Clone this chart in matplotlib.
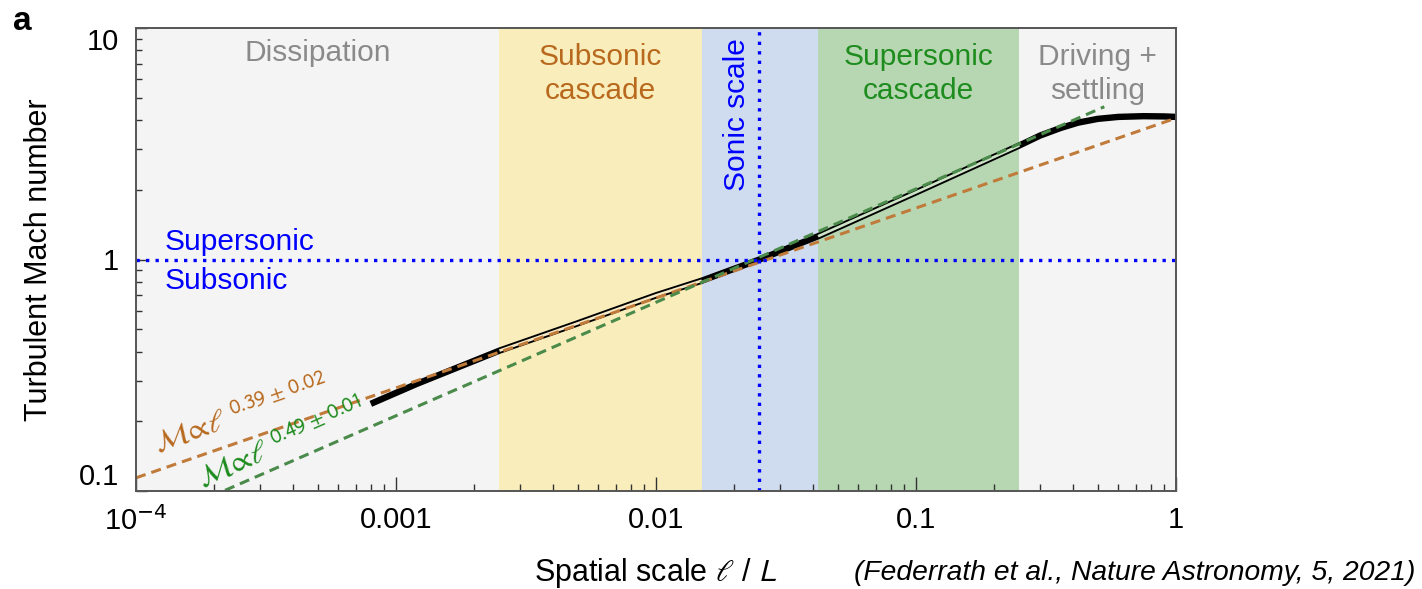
import matplotlib
matplotlib.use('Agg')
import matplotlib.pyplot as plt
import numpy as np
from matplotlib.ticker import FixedLocator, NullFormatter

plt.rcParams['font.family'] = ['Liberation Sans', 'DejaVu Sans']

# ---- data ----
scale = [0.0008, 0.0012, 0.0025, 0.005, 0.01, 0.015, 0.025, 0.042, 0.1, 0.25,
         0.3, 0.36, 0.42, 0.5, 0.6, 0.75, 0.9, 1.0]
mach = [0.238, 0.29, 0.404, 0.53, 0.70, 0.81, 1.0, 1.26, 1.95, 3.11,
        3.43, 3.70, 3.90, 4.05, 4.13, 4.16, 4.15, 4.13]

brown_fit_scale = [1e-4, 1.0]
brown_fit_mach = [0.114, 4.08]
green_fit_scale = [1e-4, 0.53]
green_fit_mach = [0.0684, 4.57]

region_edges = [1e-4, 0.0025, 0.015, 0.042, 0.25, 1.0]
region_colors = ['#f4f4f4', '#f9eebb', '#cfdcef', '#b7d7b2', '#f4f4f4']
region_labels = ['Dissipation', 'Subsonic\ncascade', '', 'Supersonic\ncascade', 'Driving +\nsettling']
region_label_colors = ['#8a8a8a', '#b8691e', 'blue', '#1e8c1e', '#8a8a8a']

subsonic_fit_range = (0.0025, 0.015)
supersonic_fit_range = (0.042, 0.25)

sonic_scale = 0.025
sonic_mach = 1.0

xticks = [1e-4, 1e-3, 1e-2, 1e-1, 1]
xticklabels = [r'10$^{-4}$', '0.001', '0.01', '0.1', '1']
yticks = [0.1, 1, 10]
yticklabels = ['0.1', '1', '10']

# ---- figure ----
fig = plt.figure(figsize=(14.22, 5.89), dpi=100)
L, R, T, B = 136, 1176, 28, 491
ax = fig.add_axes([L / 1422, 1 - B / 589, (R - L) / 1422, (B - T) / 589])
ax.set_xscale('log')
ax.set_yscale('log')
ax.set_xlim(1e-4, 1)
ax.set_ylim(0.1, 10)

for i in range(len(region_colors)):
    ax.axvspan(region_edges[i], region_edges[i + 1], color=region_colors[i], lw=0, zorder=0)

# curve (band)
s = np.array(scale)
m = np.array(mach)
ax.plot(s, m, color='black', lw=4.6, solid_capstyle='butt', solid_joinstyle='round', zorder=3)
for (lo, hi), c in [(subsonic_fit_range, '#f8ecc8'), (supersonic_fit_range, '#cfe5c8')]:
    sel = (s >= lo * 0.999) & (s <= hi * 1.001)
    ax.plot(s[sel], m[sel], color=c, lw=1.9, solid_capstyle='butt', zorder=4)

# fits
ax.plot(brown_fit_scale, brown_fit_mach, color='#c07a3a', lw=2.2, dashes=(3.3, 2.0), zorder=5)
ax.plot(green_fit_scale, green_fit_mach, color='#4a8a4a', lw=2.2, dashes=(3.3, 2.0), zorder=5)

# sonic lines
ax.axhline(sonic_mach, color='blue', lw=2.4, linestyle=(0, (1.0, 1.85)), zorder=6)
ax.axvline(sonic_scale, color='blue', lw=2.4, linestyle=(0, (1.0, 1.85)), zorder=6)

# region labels
fs_reg = 21.5
for i, lab in enumerate(region_labels):
    if not lab:
        continue
    xc = np.sqrt(region_edges[i] * region_edges[i + 1])
    yfrac = 0.946 if '\n' not in lab else 0.901
    ax.text(xc, yfrac, lab, transform=ax.get_xaxis_transform(), ha='center', va='center',
            color=region_label_colors[i], fontsize=fs_reg, linespacing=1.25, zorder=7)

ax.text(0.0205, 0.812, 'Sonic scale', transform=ax.get_xaxis_transform(), rotation=90,
        ha='center', va='center', color='blue', fontsize=fs_reg, zorder=7)
ax.text(1.29e-4, 1.185, 'Supersonic', ha='left', va='center', color='blue', fontsize=fs_reg, zorder=7)
ax.text(1.29e-4, 0.81, 'Subsonic', ha='left', va='center', color='blue', fontsize=fs_reg, zorder=7)

# fit annotations
ax.text(1.215e-4, 0.146, r'$\mathcal{M}\!\propto\!\ell^{\,0.39\,\pm\,0.02}$', rotation=19.1,
        rotation_mode='anchor', ha='left', va='baseline', color='#b8691e', fontsize=21.5,
        math_fontfamily='stixsans', zorder=7)
ax.text(1.795e-4, 0.104, r'$\mathcal{M}\!\propto\!\ell^{\,0.49\,\pm\,0.01}$', rotation=23.5,
        rotation_mode='anchor', ha='left', va='baseline', color='#1e8c1e', fontsize=21.5,
        math_fontfamily='stixsans', zorder=7)

# axes styling
for sp in ax.spines.values():
    sp.set_color('#555555')
    sp.set_linewidth(1.4)
    sp.set_zorder(8)

ax.xaxis.set_major_locator(FixedLocator(xticks))
ax.set_xticklabels(xticklabels)
ax.yaxis.set_major_locator(FixedLocator(yticks))
ax.set_yticklabels(yticklabels)
ax.xaxis.set_minor_formatter(NullFormatter())
ax.yaxis.set_minor_formatter(NullFormatter())
ax.tick_params(which='both', direction='in', color='#333333', width=1.0, top=False, right=False)
ax.tick_params(axis='x', which='major', length=10, pad=11, labelsize=21)
ax.tick_params(axis='x', which='minor', length=5)
ax.tick_params(axis='y', which='major', length=8, pad=12, labelsize=21)
ax.tick_params(axis='y', which='minor', length=4.5)

yt = ax.yaxis.get_major_ticks()
yt[0].label1.set_va('bottom')
yt[-1].label1.set_va('top')

ax.set_xlabel(r'Spatial scale $\ell$ / $L$', fontsize=22, labelpad=14, math_fontfamily='stixsans')
ax.set_ylabel('Turbulent Mach number', fontsize=22, labelpad=18)

fig.text(22 / 1422, 1 - 21 / 589, 'a', fontsize=24, fontweight='bold', ha='center', va='center')
fig.text(1415 / 1422, 1 - 573 / 589, '(Federrath et al., Nature Astronomy, 5, 2021)',
         fontsize=20.3, style='italic', ha='right', va='center')

fig.savefig('out.png', dpi=100)
